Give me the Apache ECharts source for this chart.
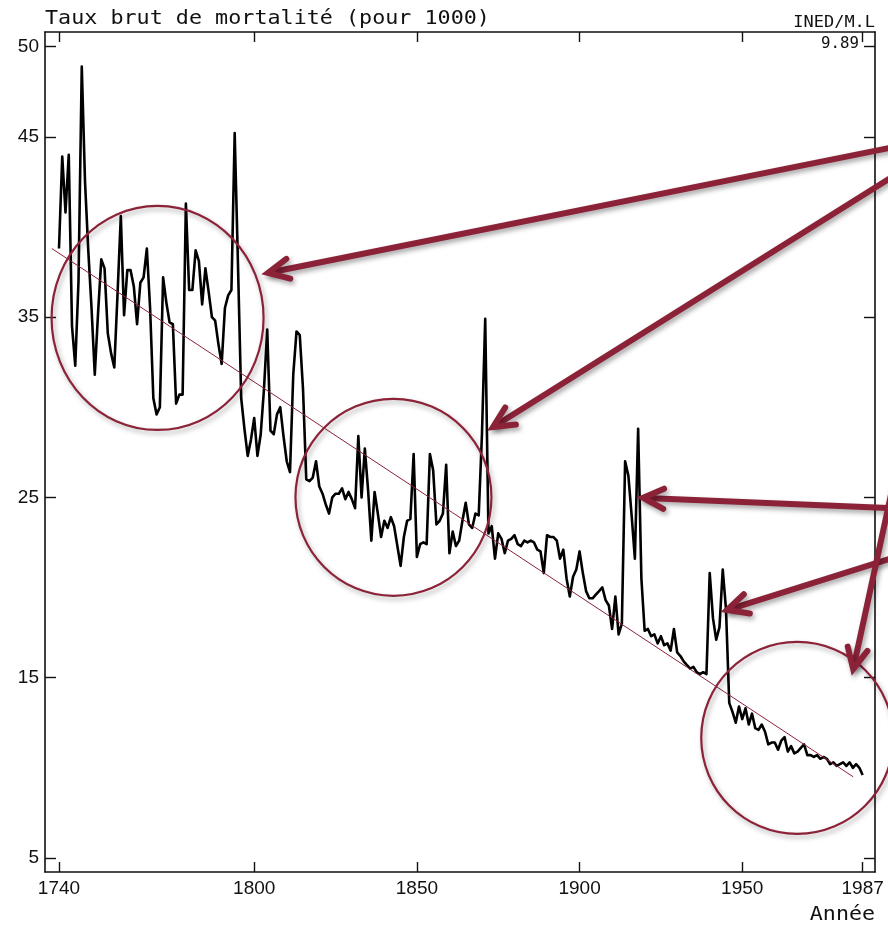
<!DOCTYPE html>
<html>
<head>
<meta charset="utf-8">
<script src="https://cdn.jsdelivr.net/npm/echarts@6/dist/echarts.min.js"></script>
<style>
html,body{margin:0;padding:0;background:#ffffff;}
#chart{width:888px;height:926px;}
</style>
</head>
<body>
<div id="chart"></div>
<script>
// ---- data (taux brut de mortalité, pour 1000), one value per year from 1740 ----
const startYear = 1740;
const rates1740s = [38.8, 43.9, 40.8, 44.0, 34.5, 32.3, 37.0, 48.9, 42.5, 38.7];
const rates1750s = [35.5, 31.8, 35.2, 38.2, 37.7, 34.1, 33.0, 32.2, 36.3, 40.6];
const rates1760s = [35.1, 37.6, 37.6, 36.7, 34.6, 36.9, 37.2, 38.8, 35.5, 30.5];
const rates1770s = [29.6, 30.0, 37.2, 35.8, 34.7, 34.6, 30.2, 30.7, 30.7, 41.3];
const rates1780s = [36.5, 36.5, 38.7, 38.1, 35.7, 37.7, 36.4, 35.0, 34.8, 33.5];
const rates1790s = [32.4, 35.5, 36.2, 36.5, 45.2, 38.0, 30.5, 28.8, 27.3, 28.2];
const rates1800s = [29.4, 27.3, 28.5, 31.0, 34.3, 28.7, 28.5, 29.6, 30.0, 28.4];
const rates1810s = [27.0, 26.4, 31.8, 34.2, 34.0, 31.0, 26.0, 25.9, 26.1, 27.0];
const rates1820s = [25.6, 25.2, 24.6, 24.1, 25.0, 25.2, 25.2, 25.5, 24.9, 25.3];
const rates1830s = [24.9, 24.4, 28.4, 25.0, 27.7, 25.4, 22.6, 25.3, 24.1, 22.8];
const rates1840s = [23.7, 23.3, 23.9, 23.4, 22.3, 21.2, 22.8, 23.7, 23.8, 27.4];
const rates1850s = [21.7, 22.4, 22.5, 22.4, 27.4, 26.5, 23.5, 23.7, 24.1, 26.8];
const rates1860s = [21.9, 23.1, 22.3, 22.6, 23.7, 24.7, 23.5, 23.3, 24.1, 24.0];
const rates1870s = [28.5, 34.9, 23.0, 23.4, 21.6, 23.0, 22.7, 21.9, 22.6, 22.7];
const rates1880s = [22.9, 22.4, 22.3, 22.6, 22.5, 22.6, 22.5, 22.1, 22.0, 20.8];
const rates1890s = [22.9, 22.8, 22.8, 22.6, 21.6, 22.1, 20.5, 19.5, 20.6, 21.0];
const rates1900s = [22.0, 20.8, 19.8, 19.4, 19.4, 19.6, 19.8, 20.0, 19.3, 19.0];
const rates1910s = [17.7, 19.5, 17.4, 18.0, 27.0, 26.2, 24.0, 21.6, 28.8, 20.5];
const rates1920s = [17.6, 17.7, 17.3, 17.4, 16.9, 17.3, 16.8, 16.9, 16.5, 17.7];
const rates1930s = [16.4, 16.2, 15.9, 15.7, 15.5, 15.6, 15.3, 15.2, 15.3, 15.2];
const rates1940s = [20.8, 18.3, 17.1, 17.8, 21.0, 18.8, 13.6, 13.1, 12.5, 13.4];
const rates1950s = [12.7, 13.3, 12.4, 13.0, 12.2, 12.1, 12.4, 12.0, 11.3, 11.4];
const rates1960s = [11.4, 11.0, 11.5, 11.7, 10.9, 11.2, 10.8, 10.9, 11.1, 11.3];
const rates1970s = [10.7, 10.7, 10.6, 10.7, 10.5, 10.6, 10.5, 10.2, 10.3, 10.1];
const rates1980s = [10.2, 10.3, 10.1, 10.3, 10.0, 10.2, 10.0, 9.6];

const xTickYears = [1740, 1800, 1850, 1900, 1950, 1987];
const yTickValues = [5, 15, 25, 35, 45, 50];

// red trend line (year, rate) end points
const trendLine = [[1737.8, 38.8], [1984.1, 9.5]];

// annotation anchors in data coordinates (year, rate)
const circleCenters = [[1770.3, 34.95], [1842.8, 25.0], [1966.9, 11.66]];
const arrowTails = [[1998.5, 44.5], [1998.5, 43.05], [1998.5, 24.38], [1998.5, 21.77], [1996.7, 25.97]];
const arrowHeads = [[1804.25, 37.45], [1873.4, 28.9], [1919.5, 24.97], [1945.35, 18.75], [1984.1, 15.48]];

// ---- build ----
const rates = [].concat(rates1740s, rates1750s, rates1760s, rates1770s, rates1780s,
  rates1790s, rates1800s, rates1810s, rates1820s, rates1830s, rates1840s, rates1850s,
  rates1860s, rates1870s, rates1880s, rates1890s, rates1900s, rates1910s, rates1920s,
  rates1930s, rates1940s, rates1950s, rates1960s, rates1970s, rates1980s);
const seriesData = rates.map((v, i) => [startYear + i, v]);

const INK = '#111111';
const RED = '#8b2238';
const circleRadii = [[106, 112], [98, 98.5], [96, 96]];

const chart = echarts.init(document.getElementById('chart'), null, {renderer: 'canvas'});

const axisLineStyle = {color: INK, width: 1.6};
const tickStyle = {color: INK, width: 1.4};
const labelFont = {fontFamily: '"Liberation Sans", Arial, sans-serif', fontSize: 19, color: INK};

chart.setOption({
  animation: false,
  backgroundColor: '#ffffff',
  grid: {left: 45, right: 13, top: 32, bottom: 54, containLabel: false},
  xAxis: [
    {
      type: 'value', position: 'bottom', min: 1735.7, max: 1990.8,
      axisLine: {show: true, onZero: false, lineStyle: axisLineStyle},
      axisTick: {show: true, inside: true, length: 10, customValues: xTickYears, lineStyle: tickStyle},
      axisLabel: Object.assign({show: true, margin: 7, customValues: xTickYears,
        formatter: v => String(Math.round(v))}, labelFont),
      splitLine: {show: false}
    },
    {
      type: 'value', position: 'top', min: 1735.7, max: 1990.8,
      axisLine: {show: true, onZero: false, lineStyle: axisLineStyle},
      axisTick: {show: true, inside: true, length: 10, customValues: xTickYears, lineStyle: tickStyle},
      axisLabel: {show: false},
      splitLine: {show: false}
    }
  ],
  yAxis: [
    {
      type: 'value', position: 'left', min: 4.22, max: 50.81,
      axisLine: {show: true, onZero: false, lineStyle: axisLineStyle},
      axisTick: {show: true, inside: true, length: 11, customValues: yTickValues, lineStyle: tickStyle},
      axisLabel: Object.assign({show: true, margin: 6, customValues: yTickValues,
        formatter: v => String(Math.round(v))}, labelFont),
      splitLine: {show: false}
    },
    {
      type: 'value', position: 'right', min: 4.22, max: 50.81,
      axisLine: {show: true, onZero: false, lineStyle: axisLineStyle},
      axisTick: {show: true, inside: true, length: 11, customValues: yTickValues, lineStyle: tickStyle},
      axisLabel: {show: false},
      splitLine: {show: false}
    }
  ],
  series: [
    {
      type: 'line', name: 'Taux brut de mortalité', xAxisIndex: 0, yAxisIndex: 0,
      data: seriesData, showSymbol: false, symbol: 'none', smooth: false,
      lineStyle: {color: '#000000', width: 2.6, join: 'round'}, z: 3
    },
    {
      type: 'line', name: 'tendance', xAxisIndex: 0, yAxisIndex: 0,
      data: trendLine, showSymbol: false, symbol: 'none',
      lineStyle: {color: RED, width: 1}, z: 4
    }
  ]
});

// ---- annotations (converted from data coordinates) ----
function px(p) { return chart.convertToPixel({xAxisIndex: 0, yAxisIndex: 0}, p); }
const shadow = {shadowBlur: 5, shadowColor: 'rgba(0,0,0,0.35)', shadowOffsetX: 2, shadowOffsetY: 3};
const graphics = [];

circleCenters.forEach((c, i) => {
  const p = px(c);
  graphics.push({
    type: 'ellipse', z: 20,
    shape: {cx: p[0], cy: p[1], rx: circleRadii[i][0], ry: circleRadii[i][1]},
    style: Object.assign({fill: 'none', stroke: RED, lineWidth: 2.2}, shadow)
  });
});

arrowHeads.forEach((h, i) => {
  const tip = px(h), tail = px(arrowTails[i]);
  const dx = tail[0] - tip[0], dy = tail[1] - tip[1];
  const len = Math.sqrt(dx * dx + dy * dy);
  const ux = dx / len, uy = dy / len;
  const ang = 26 * Math.PI / 180, armLen = 23;
  const rot = (a) => [ux * Math.cos(a) - uy * Math.sin(a), ux * Math.sin(a) + uy * Math.cos(a)];
  const a1 = rot(ang), a2 = rot(-ang);
  graphics.push({
    type: 'line', z: 21,
    shape: {x1: tip[0] + ux * 3, y1: tip[1] + uy * 3, x2: tail[0], y2: tail[1]},
    style: Object.assign({stroke: RED, lineWidth: 6, lineCap: 'round'}, shadow)
  });
  graphics.push({
    type: 'polyline', z: 21,
    shape: {points: [[tip[0] + a1[0] * armLen, tip[1] + a1[1] * armLen], [tip[0], tip[1]],
                     [tip[0] + a2[0] * armLen, tip[1] + a2[1] * armLen]]},
    style: Object.assign({stroke: RED, fill: 'none', lineWidth: 6, lineCap: 'round', lineJoin: 'miter'}, shadow)
  });
});

const monoFont = '"DejaVu Sans Mono", "Liberation Mono", monospace';
graphics.push({
  type: 'text', x: 45, y: 19, scaleX: 1.144, z: 30,
  style: {text: 'Taux brut de mortalité (pour 1000)', font: '19px ' + monoFont,
          fill: INK, align: 'left', verticalAlign: 'middle'}
});
graphics.push({
  type: 'text', x: 875, y: 23.5, scaleX: 1.13, z: 30,
  style: {text: 'INED/M.L', font: '15px ' + monoFont, fill: INK, align: 'right', verticalAlign: 'middle'}
});
graphics.push({
  type: 'text', x: 859, y: 44.5, scaleX: 1.05, z: 30,
  style: {text: '9.89', font: '15px ' + monoFont, fill: INK, align: 'right', verticalAlign: 'middle'}
});
graphics.push({
  type: 'text', x: 875, y: 915, scaleX: 1.14, z: 30,
  style: {text: 'Année', font: '19px ' + monoFont, fill: INK, align: 'right', verticalAlign: 'middle'}
});

chart.setOption({graphic: graphics});
</script>
</body>
</html>
